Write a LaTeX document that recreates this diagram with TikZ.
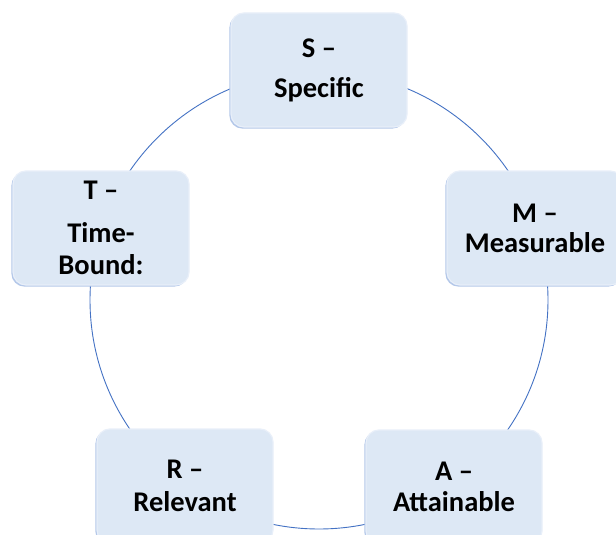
\documentclass[tikz,border=0pt]{standalone}
\usepackage{fontspec}
\setmainfont{Carlito}
\begin{document}
\begin{tikzpicture}[x=1pt,y=-1pt,
  smartbox/.style={draw=boxhi,line width=1.2pt,fill=boxfill,rounded corners=13pt,
    preaction={fill=boxshade,transform canvas={xshift=-1.6pt,yshift=-1.6pt}},
    minimum width=176pt,minimum height=114pt,inner sep=0pt,align=center,
    font=\fontsize{28.5}{30}\selectfont\bfseries},
  cycle/.style={draw=cycleblue,line width=0.9pt}]
\definecolor{boxfill}{HTML}{DDE8F5}
\definecolor{boxhi}{HTML}{E8EFF9}
\definecolor{boxshade}{HTML}{B4C8E9}
\definecolor{cycleblue}{HTML}{4472C4}
\clip (0,0) rectangle (616,535);
\fill[white] (0,0) rectangle (616,535);
\coordinate (c) at (319,300);
\draw[cycle] (c) circle[radius=229];
\node[smartbox] (s) at (319,70) {S –\\[10pt]Specific};
\node[smartbox] (m) at (535,228) {M –\\Measurable};
\node[smartbox] (a) at (454,487) {A –\\[1pt]Attainable};
\node[smartbox] (r) at (185,486) {R –\\[3pt]Relevant};
\node[smartbox] (t) at (101,228) {T –\\[13pt]Time-\\[2pt]Bound:};
\end{tikzpicture}
\end{document}
